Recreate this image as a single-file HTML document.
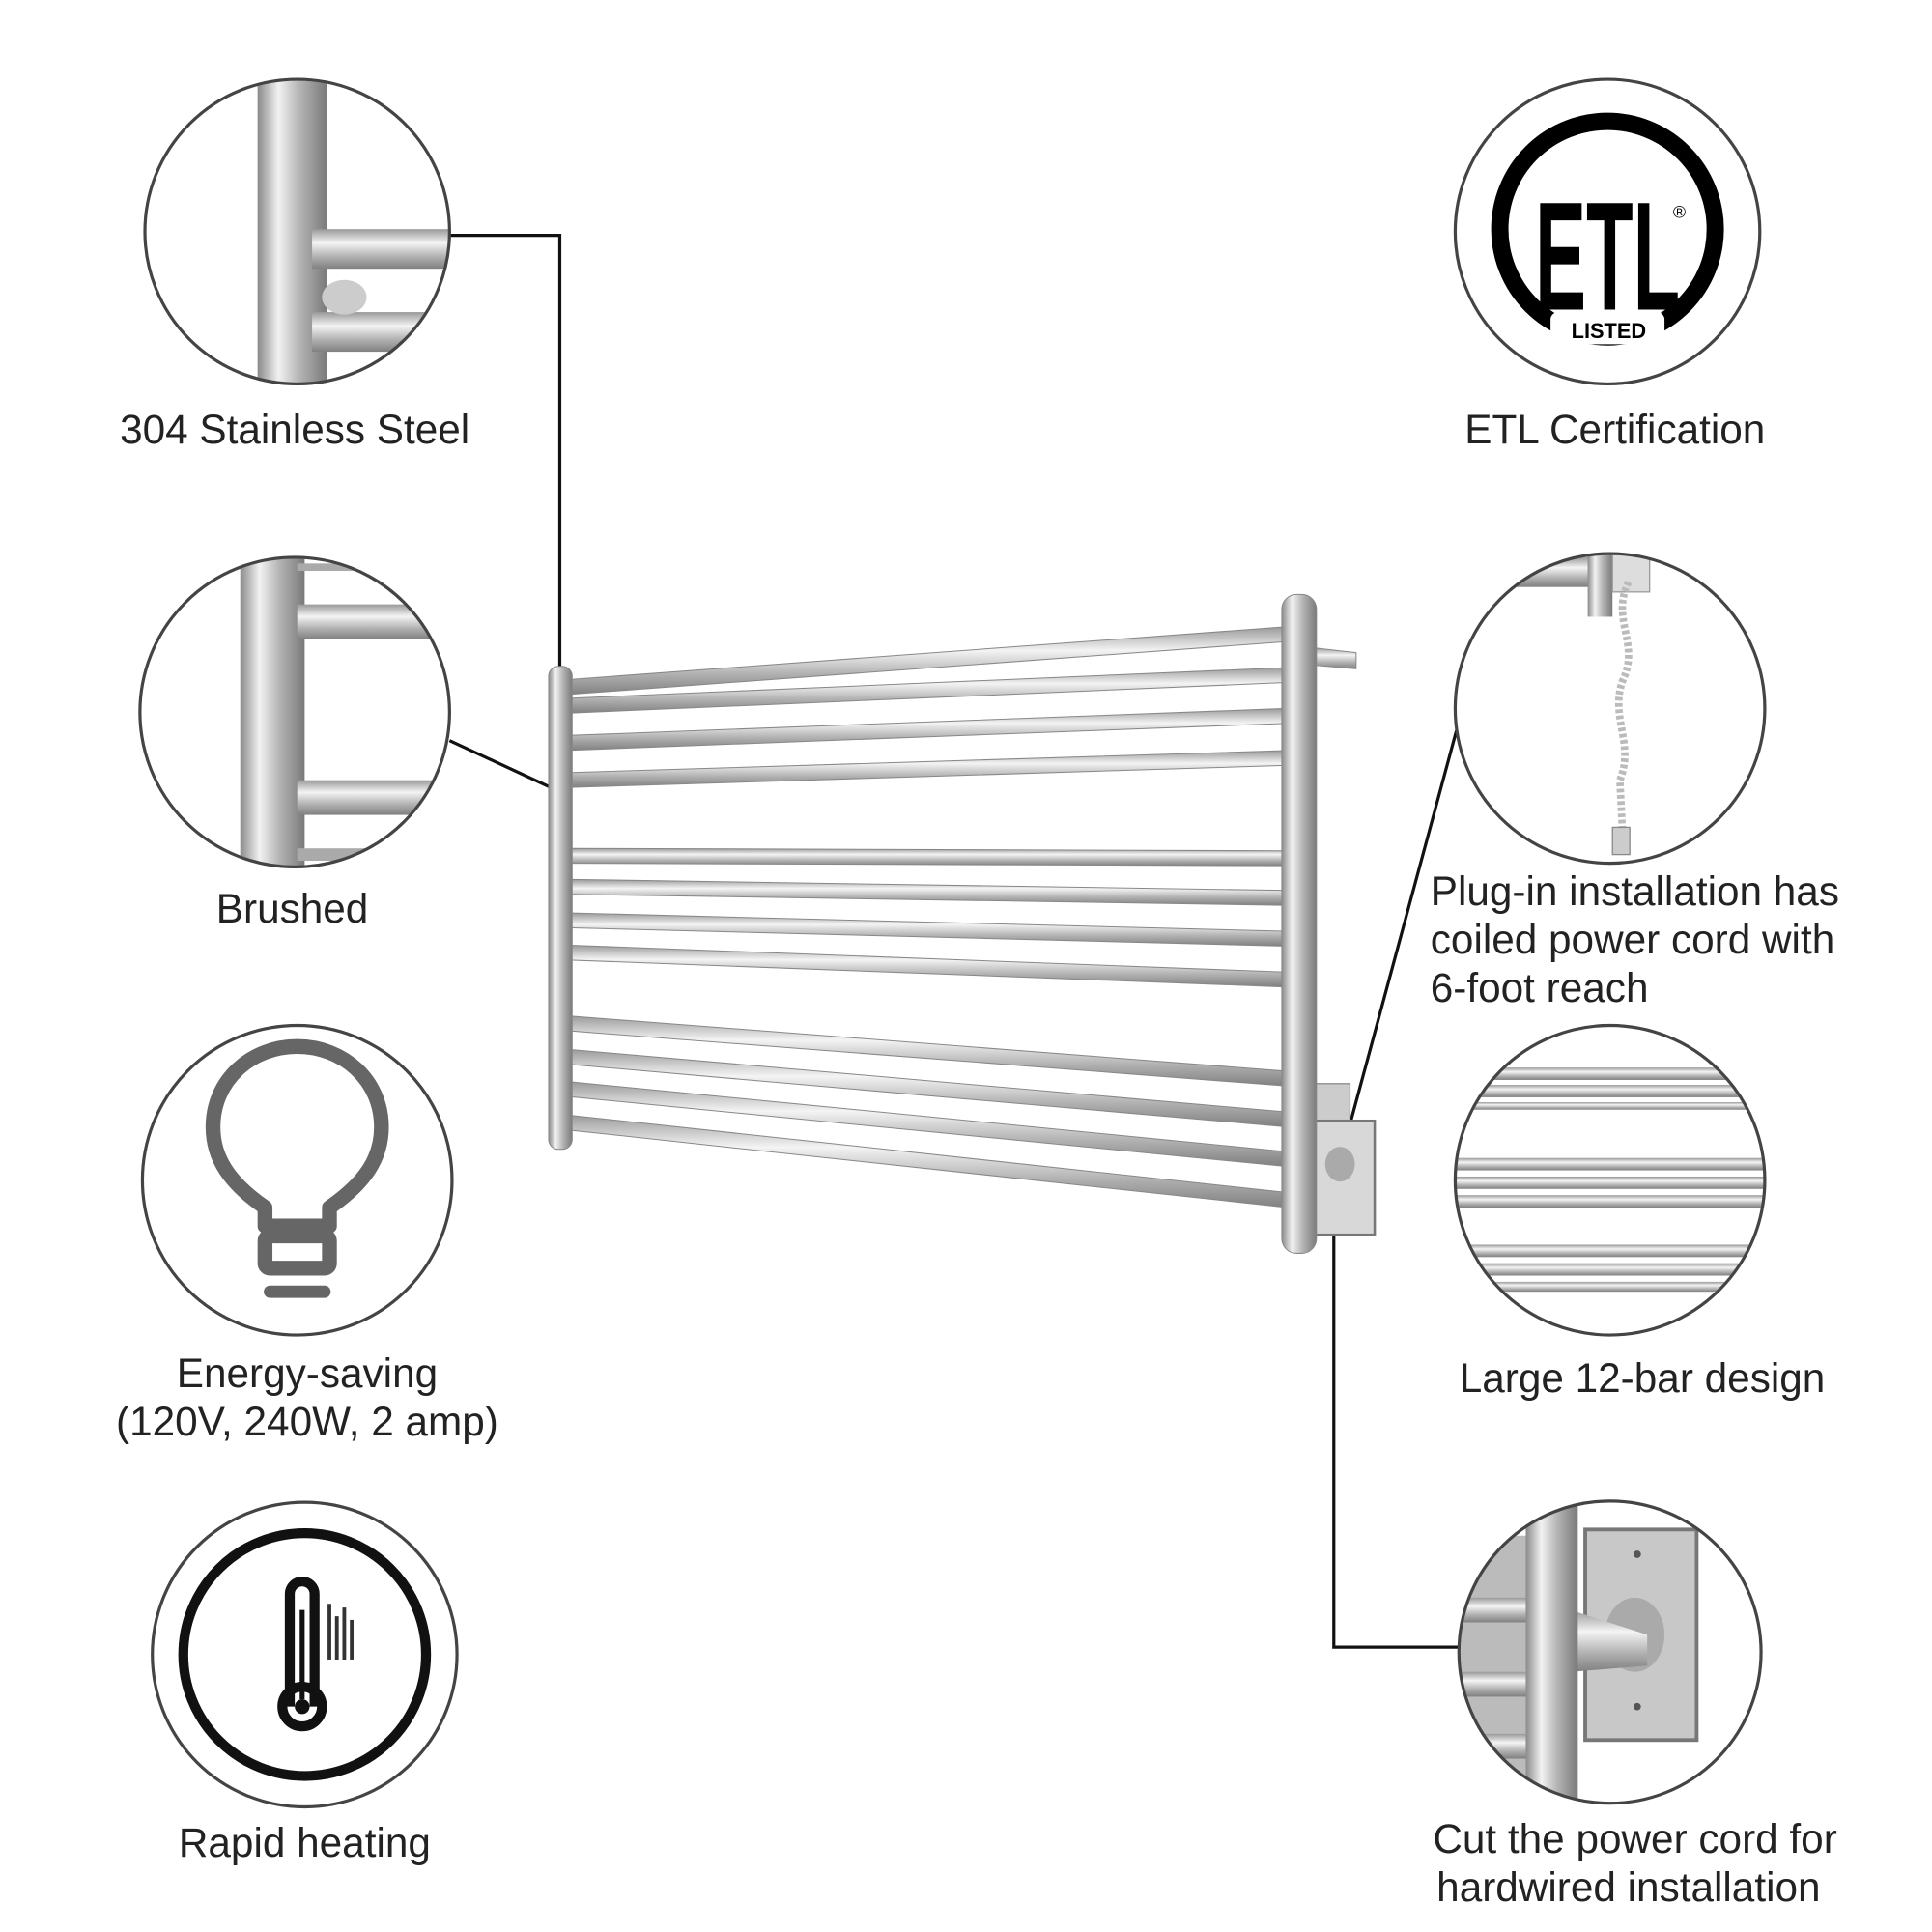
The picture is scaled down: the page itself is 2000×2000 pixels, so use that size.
<!DOCTYPE html>
<html><head><meta charset="utf-8"><style>
html,body{margin:0;padding:0;background:#fff;}
svg{display:block;}
text{font-family:"Liberation Sans","DejaVu Sans",sans-serif;fill:#222;font-size:33px;}
</style></head><body>
<svg width="2000" height="2000" viewBox="0 0 1560 1560" xmlns="http://www.w3.org/2000/svg">
<defs>
<linearGradient id="vb" x1="0" x2="1" y1="0" y2="0">
<stop offset="0" stop-color="#8a8a8a"/><stop offset="0.3" stop-color="#f2f2f2"/><stop offset="0.6" stop-color="#b5b5b5"/><stop offset="1" stop-color="#7a7a7a"/></linearGradient>
<linearGradient id="hb" x1="0" x2="0" y1="0" y2="1">
<stop offset="0" stop-color="#999"/><stop offset="0.35" stop-color="#f4f4f4"/><stop offset="0.7" stop-color="#b0b0b0"/><stop offset="1" stop-color="#808080"/></linearGradient>
<clipPath id="c1"><circle cx="240" cy="187" r="122"/></clipPath>
<clipPath id="c2"><circle cx="238" cy="575" r="124"/></clipPath>
<clipPath id="c6"><circle cx="1300" cy="572" r="124"/></clipPath>
<clipPath id="c7"><circle cx="1300" cy="953" r="124"/></clipPath>
<clipPath id="c8"><circle cx="1300" cy="1334" r="121"/></clipPath>
</defs>

<g stroke="#111" stroke-width="2.5" fill="none">
<polyline points="363,190 452,190 452,540"/>
<line x1="363" y1="598" x2="445" y2="636"/>
<line x1="1176" y1="590" x2="1080" y2="945"/>
<polyline points="1077,985 1077,1330 1180,1330"/>
</g>

<g clip-path="url(#c1)">
<rect x="208" y="60" width="56" height="260" fill="url(#vb)"/>
<rect x="252" y="185" width="120" height="32" fill="url(#hb)"/>
<rect x="252" y="252" width="120" height="32" fill="url(#hb)"/>
<ellipse cx="278" cy="240" rx="18" ry="14" fill="#ccc"/>
</g>
<circle cx="240" cy="187" r="123" fill="none" stroke="#444" stroke-width="2.5"/>

<g clip-path="url(#c2)">
<rect x="194" y="440" width="52" height="270" fill="url(#vb)"/>
<rect x="240" y="488" width="140" height="28" fill="url(#hb)"/>
<rect x="240" y="630" width="140" height="28" fill="url(#hb)"/>
<rect x="240" y="455" width="140" height="6" fill="#aaa"/>
<rect x="240" y="685" width="140" height="10" fill="#aaa"/>
</g>
<circle cx="238" cy="575" r="125" fill="none" stroke="#444" stroke-width="2.5"/>

<circle cx="240" cy="953" r="125" fill="none" stroke="#444" stroke-width="2.5"/>
<g fill="none" stroke="#666" stroke-width="12" stroke-linejoin="round">
<path d="M214,990 L214,975 C185,955 172,935 172,910 C172,872 203,845 240,845 C277,845 308,872 308,910 C308,935 295,955 266,975 L266,990 Z"/>
<rect x="214" y="998" width="52" height="26" rx="4"/>
</g>
<line x1="218" y1="1043" x2="262" y2="1043" stroke="#666" stroke-width="10" stroke-linecap="round"/>

<circle cx="246" cy="1336" r="123" fill="none" stroke="#444" stroke-width="2.5"/>
<circle cx="246" cy="1336" r="98" fill="none" stroke="#111" stroke-width="8"/>
<path d="M234,1378 L234,1287 A10,10 0 0 1 254,1287 L254,1378" fill="none" stroke="#111" stroke-width="8"/>
<circle cx="244" cy="1378" r="16" fill="none" stroke="#111" stroke-width="8"/>
<circle cx="244" cy="1378" r="6" fill="#111"/>
<line x1="244" y1="1300" x2="244" y2="1372" stroke="#111" stroke-width="4"/>
<g stroke="#333" stroke-width="3">
<line x1="266" y1="1295" x2="266" y2="1340"/><line x1="272" y1="1305" x2="272" y2="1340"/><line x1="278" y1="1298" x2="278" y2="1340"/><line x1="284" y1="1308" x2="284" y2="1340"/>
</g>

<!-- ETL -->
<circle cx="1298" cy="187" r="123" fill="none" stroke="#444" stroke-width="2.5"/>
<circle cx="1298" cy="185" r="87" fill="none" stroke="#000" stroke-width="14"/>
<text transform="translate(1298,250) scale(0.62,1.25)" text-anchor="middle" style="font-size:100px;font-weight:bold;fill:#000">ETL</text>
<rect x="1252" y="252" width="92" height="26" rx="6" fill="#fff"/>
<text x="1299" y="273" text-anchor="middle" style="font-size:17px;font-weight:bold;fill:#000">LISTED</text>
<text x="1356" y="176" text-anchor="middle" style="font-size:14px;fill:#000">®</text>

<g clip-path="url(#c6)">
<rect x="1220" y="450" width="70" height="24" fill="url(#hb)"/>
<rect x="1282" y="440" width="20" height="58" fill="url(#vb)"/>
<rect x="1302" y="448" width="30" height="30" fill="#ddd" stroke="#999"/>
<path d="M1315,470 C1300,500 1325,520 1310,550 C1300,580 1320,600 1308,630 L1310,670" fill="none" stroke="#bbb" stroke-width="6" stroke-dasharray="3 2"/>
<rect x="1302" y="668" width="14" height="22" fill="#ccc" stroke="#888"/>
</g>
<circle cx="1300" cy="572" r="125" fill="none" stroke="#444" stroke-width="2.5"/>

<g clip-path="url(#c7)" fill="url(#hb)">
<rect x="1170" y="862" width="260" height="10"/><rect x="1170" y="876" width="260" height="10"/><rect x="1170" y="890" width="260" height="6"/>
<rect x="1170" y="935" width="260" height="10"/><rect x="1170" y="950" width="260" height="10"/><rect x="1170" y="965" width="260" height="10"/>
<rect x="1170" y="1005" width="260" height="10"/><rect x="1170" y="1020" width="260" height="10"/><rect x="1170" y="1035" width="260" height="8"/>
</g>
<circle cx="1300" cy="953" r="125" fill="none" stroke="#444" stroke-width="2.5"/>

<g clip-path="url(#c8)">
<rect x="1170" y="1240" width="80" height="200" fill="#bbb"/>
<rect x="1170" y="1290" width="70" height="20" fill="url(#hb)"/>
<rect x="1170" y="1350" width="70" height="20" fill="url(#hb)"/>
<rect x="1170" y="1400" width="70" height="20" fill="url(#hb)"/>
<rect x="1280" y="1235" width="90" height="170" fill="#c8c8c8" stroke="#777" stroke-width="3"/>
<ellipse cx="1320" cy="1320" rx="24" ry="30" fill="#aaa"/>
<path d="M1268,1300 L1330,1320 L1330,1345 L1268,1350 Z" fill="url(#hb)"/>
<rect x="1232" y="1210" width="42" height="260" fill="url(#vb)"/>
<circle cx="1322" cy="1255" r="3" fill="#555"/><circle cx="1322" cy="1378" r="3" fill="#555"/>
</g>
<circle cx="1300" cy="1334" r="122" fill="none" stroke="#444" stroke-width="2.5"/>

<g fill="url(#hb)" stroke="#888" stroke-width="0.8">
<polygon points="455,549 1040,506 1040,518 455,561"/>
<polygon points="455,564 1040,539 1040,551 455,576"/>
<polygon points="455,594 1040,572 1040,584 455,606"/>
<polygon points="455,624 1040,606 1040,618 455,636"/>
<polygon points="455,685 1040,687 1040,699 455,697"/>
<polygon points="455,710 1040,719 1040,731 455,722"/>
<polygon points="455,737 1040,752 1040,764 455,749"/>
<polygon points="455,763 1040,785 1040,797 455,775"/>
<polygon points="455,820 1040,865 1040,877 455,832"/>
<polygon points="455,847 1040,898 1040,910 455,859"/>
<polygon points="455,873 1040,930 1040,942 455,885"/>
<polygon points="455,900 1040,963 1040,975 455,912"/>
<polygon points="1060,523 1095,527 1095,540 1060,537"/>
</g>
<rect x="443" y="538" width="19" height="390" rx="8" fill="url(#vb)" stroke="#888" stroke-width="0.8"/>
<rect x="1060" y="875" width="30" height="110" fill="#ccc" stroke="#888"/>
<rect x="1062" y="905" width="48" height="92" fill="#d8d8d8" stroke="#777" stroke-width="2"/>
<ellipse cx="1082" cy="940" rx="12" ry="14" fill="#aaa"/>
<rect x="1035" y="480" width="28" height="532" rx="12" fill="url(#vb)" stroke="#888" stroke-width="0.8"/>

<text x="238" y="358" text-anchor="middle">304 Stainless Steel</text>
<text x="236" y="745" text-anchor="middle">Brushed</text>
<text x="248" y="1120" text-anchor="middle">Energy-saving</text>
<text x="248" y="1159" text-anchor="middle">(120V, 240W, 2 amp)</text>
<text x="246" y="1499" text-anchor="middle">Rapid heating</text>
<text x="1304" y="358" text-anchor="middle">ETL Certification</text>
<text x="1155" y="731">Plug-in installation has</text>
<text x="1155" y="770">coiled power cord with</text>
<text x="1155" y="809">6-foot reach</text>
<text x="1326" y="1124" text-anchor="middle">Large 12-bar design</text>
<text x="1157" y="1496">Cut the power cord for</text>
<text x="1160" y="1535">hardwired installation</text>
</svg>
</body></html>
